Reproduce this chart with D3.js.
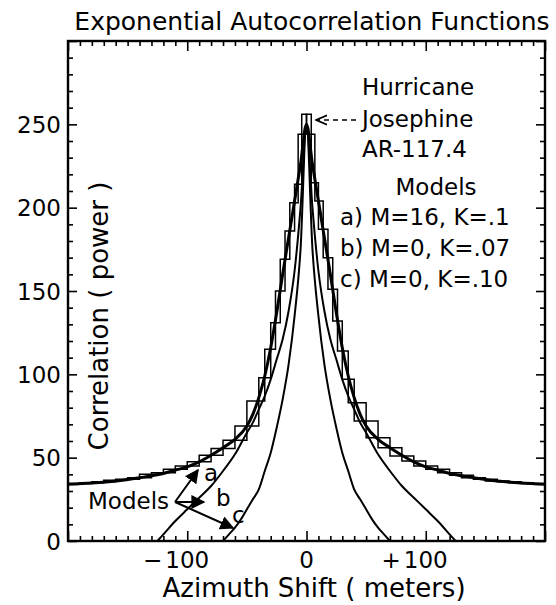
<!DOCTYPE html>
<html><head><meta charset="utf-8">
<script src="https://cdn.jsdelivr.net/npm/d3@7"></script>
<style>
body{margin:0;background:#fff}
svg{display:block}
text{font-family:"DejaVu Sans",Verdana,sans-serif;fill:#000}
</style>
</head><body>
<svg id="chart" width="556" height="605"></svg>
<script>
// ---------------- data ----------------
const histLags = [-200,-190,-180,-170,-160,-150,-140,-130,-120,-110,-100,-90,-80,-70,-60,-50,-40,-35,-30,-26,-22,-18,-14,-10,-7,-4,0,4,7,10,14,18,22,26,30,35,40,50,60,70,80,90,100,110,120,130,140,150,160,170,180,190,200];
const histValues = [34,34.5,35,35.5,36.5,37,38,40,41,43,45,47.5,51.5,55.5,60.5,69,84,98,115,131,150,169,186,203,214,244,256,244,215,204,187,170,151,132,114,97,83,72,62,56,51,48,45,43,41,39.5,38,37,36,35.5,35,34.5,34];

const modelALags = [-200,-180,-160,-140,-120,-110,-100,-90,-80,-70,-60,-50,-45,-40,-35,-30,-25,-20,-15,-10,-5,0,5,10,15,20,25,30,35,40,45,50,60,70,80,90,100,110,120,140,160,180,200];
const modelAValues = [34,34.8,36,38,40.5,42.5,44.5,47.5,51.5,56,61,69,76,86,99,116,137,160,182,204,226,250,226,204,182,160,137,116,99,86,76,69,61,56,51.5,47.5,44.5,42.5,40.5,38,36,34.8,34];

const modelBLags = [-125,-120,-110,-100,-90,-80,-70,-60,-50,-45,-40,-35,-30,-25,-20,-15,-10,-5,0,5,10,15,20,25,30,35,40,45,50,60,70,80,90,100,110,120,125];
const modelBValues = [0,4,12,19,26,33,42,52,65,71,79,87,97,109,121,138,162,200,250,200,162,138,121,109,97,87,79,71,65,52,42,33,26,19,12,4,0];

const modelCLags = [-70,-65,-60,-55,-50,-45,-40,-35,-30,-25,-20,-15,-10,-5,0,5,10,15,20,25,30,35,40,45,50,55,60,65,70];
const modelCValues = [0,4,8,13,19,25,31,42,53,68,85,106,135,175,250,175,135,106,85,68,53,42,31,25,19,13,8,4,0];

const yTickLabels = [0,50,100,150,200,250];
const xTickLabels = [{v:-100,sign:"\u2212",num:"100"},{v:0,sign:"",num:"0"},{v:100,sign:"+",num:"100"}];
const legendLines = ["Hurricane","Josephine","AR-117.4"];
const modelTitle = "Models";
const modelLines = ["a) M=16, K=.1","b) M=0, K=.07","c) M=0, K=.10"];
const annotLabels = ["a","b","c"];

// ---------------- layout ----------------
const L = 68, R = 545, T = 41, B = 541;
const svg = d3.select("#chart");
const x = d3.scaleLinear().domain([-200,200]).range([L,R]);
const y = d3.scaleLinear().domain([0,300]).range([B,T]);
const defs = svg.append("defs");
defs.append("clipPath").attr("id","clip")
  .append("rect").attr("x",L).attr("y",T).attr("width",R-L).attr("height",B-T);

// title
svg.append("text").attr("x",312).attr("y",30).attr("text-anchor","middle")
  .style("font-size","25px").text("Exponential Autocorrelation Functions");

// axes
const fs = "23px";
const minorY = d3.range(0,301,10), minorX = d3.range(-200,201,10);
function styleAxis(g){ g.select(".domain").remove(); g.selectAll("line").attr("stroke","#000").attr("stroke-width",1.6); }

const gl = svg.append("g").attr("transform",`translate(${L},0)`)
  .call(d3.axisLeft(y).tickValues(minorY).tickSize(-5).tickPadding(7)
    .tickFormat(d => yTickLabels.includes(d) ? d : ""));
styleAxis(gl);
gl.selectAll(".tick").filter(d=>d%50===0).select("line").attr("x2",9);
gl.selectAll("text").style("font-size",fs).attr("dy","0.36em");

const gr = svg.append("g").attr("transform",`translate(${R},0)`)
  .call(d3.axisRight(y).tickValues(minorY).tickSize(-5).tickFormat(""));
styleAxis(gr);
gr.selectAll(".tick").filter(d=>d%50===0).select("line").attr("x2",-9);

const gb = svg.append("g").attr("transform",`translate(0,${B})`)
  .call(d3.axisBottom(x).tickValues(minorX).tickSize(-5).tickFormat(""));
styleAxis(gb);
gb.selectAll(".tick").filter(d=>d%100===0).select("line").attr("y2",-10);

const gt = svg.append("g").attr("transform",`translate(0,${T})`)
  .call(d3.axisTop(x).tickValues(minorX).tickSize(-5).tickFormat(""));
styleAxis(gt);
gt.selectAll(".tick").filter(d=>d%100===0).select("line").attr("y2",10);

// x tick labels: number centred on the tick, sign hanging to its left
xTickLabels.forEach(o=>{
  const t = svg.append("text").attr("x",x(o.v)).attr("y",568).attr("text-anchor","middle")
    .style("font-size",fs).text(o.num);
  if(o.sign){
    const w = t.node().getComputedTextLength();
    svg.append("text").attr("x",x(o.v)-w/2-3).attr("y",568).attr("text-anchor","end")
      .style("font-size",fs).text(o.sign);
  }
});

// frame
svg.append("rect").attr("x",L).attr("y",T).attr("width",R-L).attr("height",B-T)
  .attr("fill","none").attr("stroke","#000").attr("stroke-width",2.4);

// axis titles
svg.append("text").attr("x",314).attr("y",597).attr("text-anchor","middle")
  .style("font-size","26px").text("Azimuth Shift ( meters)");
svg.append("text").attr("transform",`translate(108,316) rotate(-90)`).attr("text-anchor","middle")
  .style("font-size","26px").text("Correlation ( power )");

// plot content
const plot = svg.append("g").attr("clip-path","url(#clip)");
const hist = histLags.map((l,i)=>[l,histValues[i]]);
const stepA = d3.line().x(d=>x(d[0])).y(d=>y(d[1])).curve(d3.curveStepAfter);
const stepB = d3.line().x(d=>x(d[0])).y(d=>y(d[1])).curve(d3.curveStepBefore);
plot.append("path").attr("d",stepA(hist)).attr("fill","none").attr("stroke","#000").attr("stroke-width",1.5);
plot.append("path").attr("d",stepB(hist)).attr("fill","none").attr("stroke","#000").attr("stroke-width",1.5);

const smooth = d3.line().x(d=>x(d[0])).y(d=>y(d[1])).curve(d3.curveMonotoneX);
plot.append("path").attr("d",smooth(modelALags.map((l,i)=>[l,modelAValues[i]])))
  .attr("fill","none").attr("stroke","#000").attr("stroke-width",3);
plot.append("path").attr("d",smooth(modelBLags.map((l,i)=>[l,modelBValues[i]])))
  .attr("fill","none").attr("stroke","#000").attr("stroke-width",2);
plot.append("path").attr("d",smooth(modelCLags.map((l,i)=>[l,modelCValues[i]])))
  .attr("fill","none").attr("stroke","#000").attr("stroke-width",2);

// legend text (upper right)
const lg = svg.append("g");
[95,127,157].forEach((yy,i)=>{
  lg.append("text").attr("x",362).attr("y",yy).style("font-size",fs).text(legendLines[i]);
});
lg.append("text").attr("x",436).attr("y",195).attr("text-anchor","middle").style("font-size",fs).text(modelTitle);
[225,256,287].forEach((yy,i)=>{
  lg.append("text").attr("x",340).attr("y",yy).style("font-size",fs).text(modelLines[i]);
});

// arrowheads
defs.append("marker").attr("id","ah").attr("viewBox","0 0 10 10").attr("refX",9).attr("refY",5)
  .attr("markerWidth",7).attr("markerHeight",7).attr("orient","auto")
  .append("path").attr("d","M0,0 L10,5 L0,10 z").attr("fill","#000");
defs.append("marker").attr("id","ao").attr("viewBox","0 0 10 10").attr("refX",9).attr("refY",5)
  .attr("markerWidth",8).attr("markerHeight",8).attr("orient","auto")
  .append("path").attr("d","M0,1 L9,5 L0,9").attr("fill","none").attr("stroke","#000").attr("stroke-width",1.5);

// Josephine arrow
svg.append("line").attr("x1",356).attr("y1",120).attr("x2",x(4)+5).attr("y2",120)
  .attr("stroke","#000").attr("stroke-width",1.5).attr("stroke-dasharray","5,4").attr("marker-end","url(#ao)");

// bottom-left annotation
svg.append("text").attr("x",88).attr("y",509).style("font-size",fs).text(modelTitle);
const origin = [175,502];
const tips = [[198,470],[204,502],[233,528]];
tips.forEach(tp=>{
  svg.append("line").attr("x1",origin[0]).attr("y1",origin[1]).attr("x2",tp[0]).attr("y2",tp[1])
    .attr("stroke","#000").attr("stroke-width",2).attr("marker-end","url(#ah)");
});
const lpos = [[204,481],[216,506],[232,523]];
annotLabels.forEach((t,i)=>{
  svg.append("text").attr("x",lpos[i][0]).attr("y",lpos[i][1]).style("font-size",fs).text(t);
});
</script>
</body></html>
